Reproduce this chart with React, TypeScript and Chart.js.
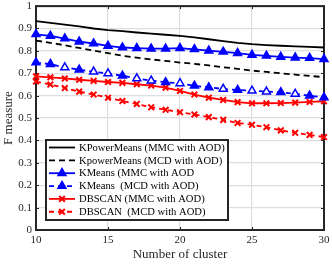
import React, { useEffect, useRef } from "react";
import { Chart, registerables } from "chart.js";

Chart.register(...registerables);

const clusters = [10, 11, 12, 13, 14, 15, 16, 17, 18, 19, 20, 21, 22, 23, 24, 25, 26, 27, 28, 29, 30];

const kpmMMC = [0.933, 0.925, 0.917, 0.909, 0.900, 0.893, 0.888, 0.882, 0.877, 0.872, 0.867, 0.860, 0.852, 0.844, 0.836, 0.830, 0.826, 0.823, 0.820, 0.818, 0.815];
const kpmMCD = [0.846, 0.836, 0.825, 0.813, 0.801, 0.790, 0.778, 0.770, 0.762, 0.755, 0.748, 0.742, 0.735, 0.727, 0.720, 0.712, 0.706, 0.700, 0.694, 0.688, 0.683];
const kmMMC = [0.874, 0.867, 0.855, 0.841, 0.833, 0.822, 0.815, 0.812, 0.810, 0.810, 0.812, 0.807, 0.801, 0.796, 0.790, 0.782, 0.778, 0.773, 0.770, 0.768, 0.763];
const kmMCD = [0.748, 0.741, 0.726, 0.716, 0.707, 0.699, 0.689, 0.677, 0.667, 0.660, 0.655, 0.644, 0.637, 0.630, 0.625, 0.622, 0.618, 0.615, 0.608, 0.600, 0.592];
const dbMMC = [0.686, 0.682, 0.677, 0.671, 0.666, 0.661, 0.657, 0.651, 0.645, 0.636, 0.621, 0.605, 0.591, 0.581, 0.571, 0.566, 0.566, 0.567, 0.569, 0.572, 0.575];
const dbMCD = [0.663, 0.650, 0.634, 0.618, 0.605, 0.591, 0.576, 0.563, 0.548, 0.537, 0.526, 0.516, 0.504, 0.492, 0.478, 0.470, 0.459, 0.445, 0.434, 0.425, 0.415];

const seriesLabels = [
  "KPowerMeans (MMC with AOD)",
  "KpowerMeans (MCD with AOD)",
  "KMeans (MMC with AOD",
  "KMeans  (MCD with AOD)",
  "DBSCAN (MMC with AOD)",
  "DBSCAN  (MCD with AOD)",
];

const xTicks = [10, 15, 20, 25, 30];
const yTicks = [0, 0.1, 0.2, 0.3, 0.4, 0.5, 0.6, 0.7, 0.8, 0.9, 1];

// marker styling: clusters where the KMeans (MCD) marker renders hollow
const kmMcdHollowAt = [12, 14, 15, 17, 18, 20, 23, 25, 26, 28];

const FONT = '"Liberation Serif", "Times New Roman", serif';

function drawMarker(ctx: CanvasRenderingContext2D, style: string, x: number, y: number, r: number, color: string) {
  ctx.save();
  ctx.setLineDash([]);
  if (style === "triangle") {
    ctx.beginPath();
    ctx.moveTo(x, y - r);
    ctx.lineTo(x + r * 0.866, y + r * 0.5);
    ctx.lineTo(x - r * 0.866, y + r * 0.5);
    ctx.closePath();
    ctx.fillStyle = color;
    ctx.fill();
    ctx.strokeStyle = color;
    ctx.lineWidth = 1.5;
    ctx.stroke();
  } else if (style === "crossRot") {
    const d = r * 0.707;
    ctx.beginPath();
    ctx.moveTo(x - d, y - d);
    ctx.lineTo(x + d, y + d);
    ctx.moveTo(x - d, y + d);
    ctx.lineTo(x + d, y - d);
    ctx.strokeStyle = color;
    ctx.lineWidth = 2;
    ctx.stroke();
  }
  ctx.restore();
}

const framePlugin = {
  id: "frameTicks",
  beforeDatasetsDraw(chart: any) {
    const { ctx, chartArea } = chart;
    const { left, top, right, bottom } = chartArea;
    const xs = chart.scales.x;
    const ys = chart.scales.y;
    ctx.save();
    ctx.strokeStyle = "#262626";
    ctx.lineWidth = 1;
    ctx.beginPath();
    for (const v of xTicks) {
      const px = Math.round(xs.getPixelForValue(v)) + 0.5;
      ctx.moveTo(px, bottom);
      ctx.lineTo(px, bottom - 3);
      ctx.moveTo(px, top);
      ctx.lineTo(px, top + 3);
    }
    for (const v of yTicks) {
      const py = Math.round(ys.getPixelForValue(v)) + 0.5;
      ctx.moveTo(left, py);
      ctx.lineTo(left + 3, py);
      ctx.moveTo(right, py);
      ctx.lineTo(right - 3, py);
    }
    ctx.stroke();
    ctx.lineWidth = 2;
    ctx.strokeStyle = "#262626";
    ctx.strokeRect(left, top, right - left, bottom - top);
    ctx.restore();
  },
  afterDraw(chart: any) {
    const { ctx } = chart;
    const bx = 46, by = 140, bw = 182, bh = 80;
    ctx.save();
    ctx.fillStyle = "#ffffff";
    ctx.fillRect(bx, by, bw, bh);
    ctx.strokeStyle = "#262626";
    ctx.lineWidth = 2;
    ctx.strokeRect(bx, by, bw, bh);
    const rowH = 12.85;
    chart.data.datasets.forEach((ds: any, i: number) => {
      const cy = by + 7.5 + i * rowH;
      ctx.save();
      ctx.strokeStyle = ds.borderColor;
      ctx.lineWidth = ds.borderWidth;
      ctx.setLineDash(ds.borderDash || []);
      ctx.beginPath();
      ctx.moveTo(bx + 3, cy);
      ctx.lineTo(bx + 29, cy);
      ctx.stroke();
      ctx.restore();
      if (ds.pointStyle && ds.pointRadius > 0) {
        drawMarker(ctx, ds.pointStyle, bx + 16, cy, ds.pointRadius, ds.borderColor);
      }
      ctx.fillStyle = "#000000";
      ctx.font = `10.6px ${FONT}`;
      ctx.textBaseline = "middle";
      ctx.textAlign = "left";
      ctx.fillText(ds.label, bx + 33, cy + 0.5);
    });
    ctx.restore();
  },
};

export default function App() {
  const ref = useRef<HTMLCanvasElement | null>(null);

  useEffect(() => {
    document.body.style.margin = "0";
    const canvas = ref.current;
    if (!canvas) return;
    const pts = (arr: number[]) => clusters.map((c, i) => ({ x: c, y: arr[i] }));
    const kmMcdFill = clusters.map((c) => (kmMcdHollowAt.includes(c) ? "#ffffff" : "#0000ff"));

    const chart = new Chart(canvas, {
      type: "line",
      data: {
        datasets: [
          {
            label: seriesLabels[0],
            data: pts(kpmMMC),
            borderColor: "#000000",
            backgroundColor: "#000000",
            borderWidth: 1.8,
            pointRadius: 0,
            pointStyle: false as any,
            clip: false as any,
          },
          {
            label: seriesLabels[1],
            data: pts(kpmMCD),
            borderColor: "#000000",
            backgroundColor: "#000000",
            borderWidth: 1.8,
            borderDash: [6, 4],
            pointRadius: 0,
            pointStyle: false as any,
            clip: false as any,
          },
          {
            label: seriesLabels[2],
            data: pts(kmMMC),
            borderColor: "#0000ff",
            backgroundColor: "#0000ff",
            borderWidth: 1.8,
            pointStyle: "triangle",
            pointRadius: 4.6,
            pointBackgroundColor: "#0000ff",
            pointBorderColor: "#0000ff",
            pointBorderWidth: 1.5,
            clip: false as any,
          },
          {
            label: seriesLabels[3],
            data: pts(kmMCD),
            borderColor: "#0000ff",
            backgroundColor: "#0000ff",
            borderWidth: 1.8,
            borderDash: [5, 4],
            pointStyle: "triangle",
            pointRadius: 4.6,
            pointBackgroundColor: kmMcdFill,
            pointBorderColor: "#0000ff",
            pointBorderWidth: 1.5,
            clip: false as any,
          },
          {
            label: seriesLabels[4],
            data: pts(dbMMC),
            borderColor: "#ff0000",
            backgroundColor: "#ff0000",
            borderWidth: 1.8,
            pointStyle: "crossRot",
            pointRadius: 4,
            pointBorderColor: "#ff0000",
            pointBorderWidth: 2,
            clip: false as any,
          },
          {
            label: seriesLabels[5],
            data: pts(dbMCD),
            borderColor: "#ff0000",
            backgroundColor: "#ff0000",
            borderWidth: 1.8,
            borderDash: [5, 4],
            pointStyle: "crossRot",
            pointRadius: 4,
            pointBorderColor: "#ff0000",
            pointBorderWidth: 2,
            clip: false as any,
          },
        ],
      },
      options: {
        responsive: false,
        animation: false,
        layout: { padding: { left: 0, top: 5, right: 8, bottom: 0 } },
        plugins: {
          legend: { display: false },
          tooltip: { enabled: false },
        },
        elements: { line: { tension: 0 } },
        scales: {
          x: {
            type: "linear",
            min: 10,
            max: 30,
            afterBuildTicks: (s: any) => {
              s.ticks = xTicks.map((v) => ({ value: v }));
            },
            afterFit: (s: any) => {
              s.height = 34;
              s.paddingLeft = 0;
              s.paddingRight = 0;
            },
            grid: { color: "#dedede", lineWidth: 1.2, drawTicks: false },
            border: { display: false },
            ticks: {
              padding: 4,
              color: "#262626",
              font: { family: FONT, size: 11 },
              maxRotation: 0,
            },
            title: {
              display: true,
              text: "Number of cluster",
              color: "#262626",
              font: { family: FONT, size: 13 },
              padding: { top: 0, bottom: 2 },
            },
          },
          y: {
            type: "linear",
            min: 0,
            max: 1,
            afterBuildTicks: (s: any) => {
              s.ticks = yTicks.map((v) => ({ value: v }));
            },
            afterFit: (s: any) => {
              s.width = 36;
              s.paddingTop = 0;
              s.paddingBottom = 0;
            },
            grid: { color: "#dedede", lineWidth: 1.2, drawTicks: false },
            border: { display: false },
            ticks: {
              padding: 4,
              color: "#262626",
              font: { family: FONT, size: 11 },
              callback: (v: any) => (v === 0 ? "0" : v === 1 ? "1" : Number(v).toFixed(1)),
            },
            title: {
              display: true,
              text: "F measure",
              color: "#262626",
              font: { family: FONT, size: 13 },
              padding: { top: 1, bottom: 0 },
            },
          },
        },
      },
      plugins: [framePlugin],
    });
    return () => chart.destroy();
  }, []);

  return (
    <div style={{ position: "absolute", left: 0, top: 0, width: 332, height: 264 }}>
      <canvas ref={ref} width={332} height={264} style={{ display: "block", width: 332, height: 264 }} />
    </div>
  );
}
